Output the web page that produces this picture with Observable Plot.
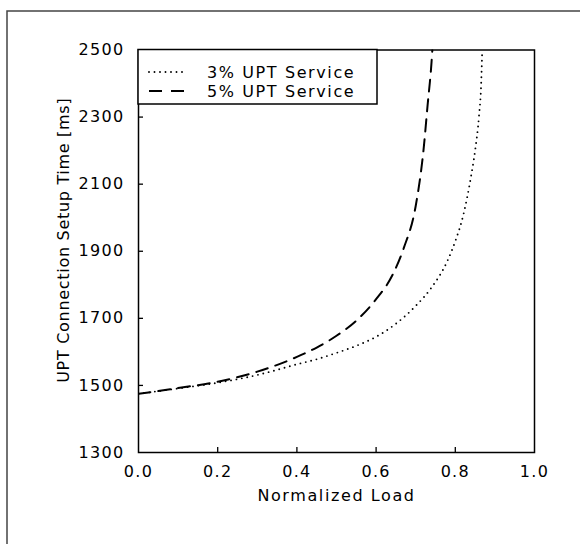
<!DOCTYPE html>
<html>
<head>
<meta charset="utf-8">
<script src="https://cdn.jsdelivr.net/npm/d3@7"></script>
<script src="https://cdn.jsdelivr.net/npm/@observablehq/plot@0.6"></script>
<style>
  html, body { margin: 0; padding: 0; background: #fff; }
  #chart svg { display: block; }
</style>
</head>
<body>
<div id="chart"></div>
<script>
// ---- data ----
const load3 = [0, 0.1, 0.2, 0.3, 0.4, 0.45, 0.5, 0.55, 0.6, 0.65, 0.7, 0.74, 0.78, 0.8, 0.82, 0.84, 0.85, 0.86, 0.865, 0.868];
const time3 = [1475, 1491, 1508, 1531, 1563, 1578, 1597, 1618, 1645, 1684, 1737, 1792, 1871, 1930, 2007, 2125, 2200, 2305, 2390, 2500];

const load5 = [0, 0.1, 0.2, 0.3, 0.4, 0.45, 0.5, 0.55, 0.6, 0.64, 0.67, 0.7, 0.72, 0.73, 0.74, 0.742];
const time5 = [1475, 1492, 1511, 1541, 1585, 1613, 1648, 1693, 1757, 1826, 1910, 2035, 2205, 2335, 2464, 2500];

const seriesNames = ["3% UPT Service", "5% UPT Service"];
const xTicks = [0, 0.2, 0.4, 0.6, 0.8, 1.0];
const yTicks = [1300, 1500, 1700, 1900, 2100, 2300, 2500];
const xLabel = "Normalized Load";
const yLabel = "UPT Connection Setup Time [ms]";

const s3 = load3.map((x, i) => ({x, y: time3[i]}));
const s5 = load5.map((x, i) => ({x, y: time5[i]}));

const W = 580, H = 544;
const mL = 138, mR = 46, mT = 49.5, mB = 92;
const plotW = W - mL - mR, plotH = H - mT - mB;

const plot = Plot.plot({
  width: W,
  height: H,
  marginLeft: mL,
  marginRight: mR,
  marginTop: mT,
  marginBottom: mB,
  style: {fontFamily: "DejaVu Sans", fontSize: "16px", color: "#000", background: "#fff"},
  x: {domain: [0, 1]},
  y: {domain: [1300, 2500]},
  marks: [
    Plot.axisX({ticks: xTicks, tickSize: 0, tickPadding: 13, tickFormat: d3.format(".1f"), label: null, fontSize: 16}),
    Plot.axisY({ticks: yTicks, tickSize: 0, tickPadding: 14, tickFormat: d => String(d), label: null, fontSize: 16}),
    // inward ticks
    Plot.tickX(xTicks.slice(1, -1), {x: d => d, insetTop: plotH - 5, stroke: "#000", strokeWidth: 1.3}),
    Plot.tickY(yTicks.slice(1, -1), {y: d => d, insetRight: plotW - 5, stroke: "#000", strokeWidth: 1.3}),
    Plot.line(s3, {x: "x", y: "y", curve: "monotone-x", clip: true, stroke: "#000", strokeWidth: 1.9, strokeDasharray: "0,5.5", strokeLinecap: "round"}),
    Plot.line(s5, {x: "x", y: "y", curve: "monotone-x", clip: true, stroke: "#000", strokeWidth: 2, strokeDasharray: "12,8"}),
    Plot.frame({stroke: "#000", strokeWidth: 1.5}),
    Plot.text([xLabel], {frameAnchor: "bottom", dy: 43, lineAnchor: "middle", textAnchor: "middle", fontSize: 16, fill: "#000"}),
    Plot.text([yLabel], {frameAnchor: "left", dx: -75, dy: -11, rotate: -90, lineAnchor: "middle", textAnchor: "middle", fontSize: 16, fill: "#000"})
  ]
});

document.getElementById("chart").appendChild(plot);

const svg = d3.select(plot);
// wider letter spacing, like the plotter font of the original
svg.selectAll('g[aria-label="x-axis tick label"] text, g[aria-label="y-axis tick label"] text').style("letter-spacing", "1.3px");
svg.selectAll("text").filter(function() { return this.textContent === xLabel; }).style("letter-spacing", "1.6px");
svg.selectAll("text").filter(function() { return this.textContent === yLabel; }).style("letter-spacing", "0.7px");

// legend box in the top-left corner of the frame, positioned via the plot's scales
const x0 = plot.scale("x").apply(0);
const y0 = plot.scale("y").apply(2500);
const lg = svg.append("g");
lg.append("rect")
  .attr("x", x0).attr("y", y0).attr("width", 239).attr("height", 54.5)
  .attr("fill", "#fff").attr("stroke", "#000").attr("stroke-width", 1.5);
const rows = [
  {name: seriesNames[0], dash: "0,5.5", cap: "round", sw: 1.9, dy: 22.5},
  {name: seriesNames[1], dash: "13,9", cap: "butt", sw: 2, dy: 41.5}
];
rows.forEach(r => {
  lg.append("line")
    .attr("x1", x0 + 11).attr("x2", x0 + 49)
    .attr("y1", y0 + r.dy).attr("y2", y0 + r.dy)
    .attr("stroke", "#000").attr("stroke-width", r.sw)
    .attr("stroke-dasharray", r.dash).attr("stroke-linecap", r.cap);
  lg.append("text")
    .attr("x", x0 + 69).attr("y", y0 + r.dy).attr("dy", "0.35em")
    .attr("text-anchor", "start")
    .style("letter-spacing", "1.6px")
    .attr("font-family", "DejaVu Sans").attr("font-size", 16).attr("fill", "#000")
    .text(r.name);
});

// scanned-page outer border (left and top edges)
svg.append("path")
  .attr("d", `M7,${H} V11 H${W}`)
  .attr("fill", "none").attr("stroke", "#444").attr("stroke-width", 1.5);
</script>
</body>
</html>
